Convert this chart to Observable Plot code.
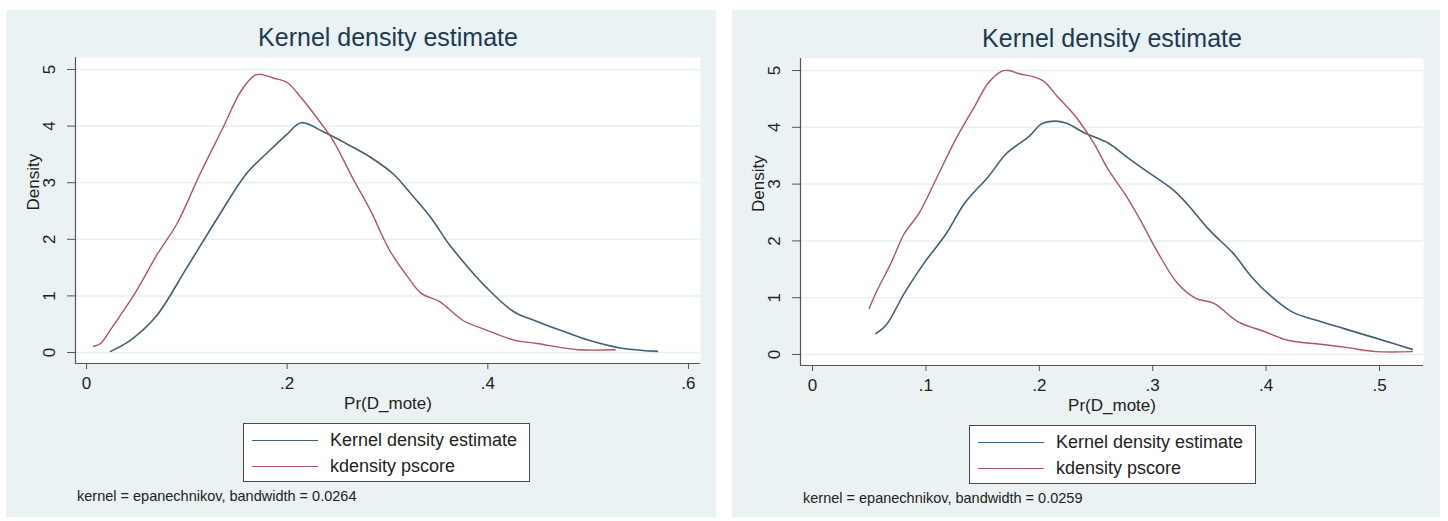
<!DOCTYPE html>
<html><head><meta charset="utf-8">
<script src="https://cdn.jsdelivr.net/npm/d3@7"></script>
<script src="https://cdn.jsdelivr.net/npm/@observablehq/plot@0.6"></script>
<style>
body{margin:0;background:#fff;width:1448px;height:521px;overflow:hidden;font-family:"Liberation Sans",Arial,sans-serif;position:relative;}
.panel{position:absolute;top:10px;height:507px;background:#eaf2f3;}
.panel svg{position:absolute;left:0;top:0;}
.legend{position:absolute;left:237px;width:287px;background:#fff;border:1px solid #4a4a4a;box-sizing:border-box;}
.lg-line{position:absolute;left:8px;width:66px;height:0;}
.lg-text{position:absolute;left:86px;font-size:18px;color:#222;line-height:20px;white-space:nowrap;}
.note{position:absolute;left:71px;font-size:14.5px;color:#222;white-space:nowrap;}
</style>
</head><body>
<div id="p1" class="panel" style="left:6px;width:710px;"></div>
<div id="p2" class="panel" style="left:732px;width:708px;"></div>
<script>
// ---- data ----
const title = "Kernel density estimate";
const xLabel = "Pr(D_mote)";
const yLabel = "Density";
const seriesNames = ["Kernel density estimate", "kdensity pscore"];
const yTicks = [0, 1, 2, 3, 4, 5];
const leftXTicks = [0, 0.2, 0.4, 0.6];
const rightXTicks = [0, 0.1, 0.2, 0.3, 0.4, 0.5];
const leftNote = "kernel = epanechnikov, bandwidth = 0.0264";
const rightNote = "kernel = epanechnikov, bandwidth = 0.0259";

const leftKdeX = [0.024,0.044,0.069,0.100,0.131,0.159,0.182,0.200,0.214,0.237,0.260,0.283,0.306,0.325,0.343,0.361,0.380,0.398,0.426,0.449,0.476,0.500,0.532,0.569];
const leftKdeY = [0.02,0.22,0.63,1.50,2.39,3.15,3.56,3.86,4.06,3.89,3.68,3.45,3.15,2.77,2.39,1.92,1.51,1.16,0.72,0.55,0.37,0.22,0.08,0.02];
const leftPsX = [0.007,0.014,0.025,0.048,0.071,0.090,0.113,0.136,0.154,0.168,0.175,0.186,0.200,0.214,0.232,0.246,0.265,0.283,0.302,0.320,0.334,0.352,0.375,0.398,0.426,0.449,0.490,0.527];
const leftPsY = [0.11,0.16,0.43,1.04,1.75,2.27,3.15,3.97,4.62,4.90,4.91,4.85,4.77,4.50,4.09,3.74,3.09,2.51,1.81,1.34,1.04,0.90,0.57,0.40,0.22,0.16,0.05,0.05];

const rightKdeX = [0.056,0.065,0.081,0.098,0.118,0.134,0.155,0.171,0.191,0.202,0.214,0.224,0.240,0.261,0.277,0.293,0.318,0.330,0.350,0.371,0.387,0.403,0.423,0.448,0.468,0.493,0.513,0.529];
const rightKdeY = [0.37,0.52,1.08,1.60,2.13,2.66,3.13,3.54,3.84,4.06,4.11,4.07,3.90,3.72,3.48,3.25,2.90,2.66,2.19,1.78,1.37,1.05,0.75,0.58,0.46,0.31,0.19,0.09];
const rightPsX = [0.050,0.057,0.069,0.081,0.094,0.110,0.126,0.143,0.155,0.167,0.173,0.183,0.195,0.204,0.216,0.232,0.248,0.261,0.277,0.289,0.305,0.322,0.338,0.354,0.375,0.399,0.419,0.448,0.472,0.497,0.529];
const rightPsY = [0.81,1.13,1.60,2.13,2.49,3.13,3.78,4.37,4.78,4.99,5.00,4.94,4.89,4.81,4.54,4.19,3.72,3.25,2.78,2.37,1.78,1.25,0.99,0.90,0.58,0.40,0.25,0.18,0.12,0.05,0.05];

const colors = ["#415f76", "#ad5560"];

function rows(xs, ys) { return xs.map((x, i) => ({x, y: ys[i]})); }
const fmt = d => d === 0 ? "0" : String(+d.toFixed(2)).replace(/^0/, "");

function panel(el, cfg) {
  const yDomain = [-0.194, 5.212];
  const font = "'Liberation Sans', Arial, sans-serif";
  const chart = Plot.plot({
    width: cfg.width, height: 507,
    marginLeft: cfg.ml, marginRight: cfg.mr, marginTop: cfg.mt, marginBottom: cfg.mb,
    x: {domain: cfg.xDomain, axis: null},
    y: {domain: yDomain, axis: null},
    style: {background: "transparent", fontFamily: font, overflow: "visible", color: "#222"},
    marks: [
      Plot.frame({fill: "white", stroke: null}),
      Plot.ruleY(yTicks, {stroke: "#e6eff1", strokeWidth: 1.5}),
      Plot.line(rows(cfg.kdeX, cfg.kdeY), {x: "x", y: "y", stroke: colors[0], strokeWidth: 1.6, curve: "catmull-rom"}),
      Plot.line(rows(cfg.psX, cfg.psY), {x: "x", y: "y", stroke: colors[1], strokeWidth: 1.4, curve: "catmull-rom"}),
      Plot.ruleX([cfg.xDomain[0]], {stroke: "#555", strokeWidth: 1.2}),
      Plot.ruleY([yDomain[0]], {x1: cfg.xDomain[0], x2: cfg.xDomain[1], stroke: "#555", strokeWidth: 1.2}),
      Plot.axisX(cfg.xTicks, {anchor: "bottom", tickSize: 6, tickPadding: 7, tickFormat: fmt, fontSize: 17, label: null, stroke: "#555", fill: "#222"}),
      Plot.axisY(yTicks, {anchor: "left", tickSize: 8, tickFormat: () => "", label: null, stroke: "#555"}),
      Plot.text(yTicks, {x: () => cfg.xDomain[0], y: d => d, text: d => String(d), rotate: -90, dx: -21, lineAnchor: "bottom", fontSize: 17, fill: "#222"}),
      Plot.text([yLabel], {frameAnchor: "left", rotate: -90, dx: -42, fontSize: 17, fill: "#222"}),
      Plot.text([xLabel], {frameAnchor: "bottom", lineAnchor: "middle", dy: 40, fontSize: 17, fill: "#222"}),
      Plot.text([title], {frameAnchor: "top", lineAnchor: "middle", dy: -20, fontSize: 25, fill: "#1e3a52"})
    ]
  });
  el.appendChild(chart);
  const lg = document.createElement("div");
  lg.className = "legend";
  lg.style.top = cfg.lgTop + "px";
  lg.style.height = "59px";
  seriesNames.forEach((name, i) => {
    const ln = document.createElement("div");
    ln.className = "lg-line";
    ln.style.top = (16 + i * 26) + "px";
    ln.style.borderTop = "1.6px solid " + colors[i];
    lg.appendChild(ln);
    const tx = document.createElement("div");
    tx.className = "lg-text";
    tx.style.top = (6 + i * 26) + "px";
    tx.textContent = name;
    lg.appendChild(tx);
  });
  el.appendChild(lg);
  const nt = document.createElement("div");
  nt.className = "note";
  nt.style.top = (cfg.lgTop + 65) + "px";
  nt.textContent = cfg.note;
  el.appendChild(nt);
}

panel(document.getElementById("p1"), {
  width: 710, ml: 69, mr: 16, mt: 47, mb: 154,
  xDomain: [-0.011, 0.612], xTicks: leftXTicks,
  kdeX: leftKdeX, kdeY: leftKdeY, psX: leftPsX, psY: leftPsY,
  note: leftNote, lgTop: 413
});
panel(document.getElementById("p2"), {
  width: 708, ml: 68, mr: 17, mt: 48, mb: 152,
  xDomain: [-0.0106, 0.5388], xTicks: rightXTicks,
  kdeX: rightKdeX, kdeY: rightKdeY, psX: rightPsX, psY: rightPsY,
  note: rightNote, lgTop: 415
});
</script>
</body></html>
